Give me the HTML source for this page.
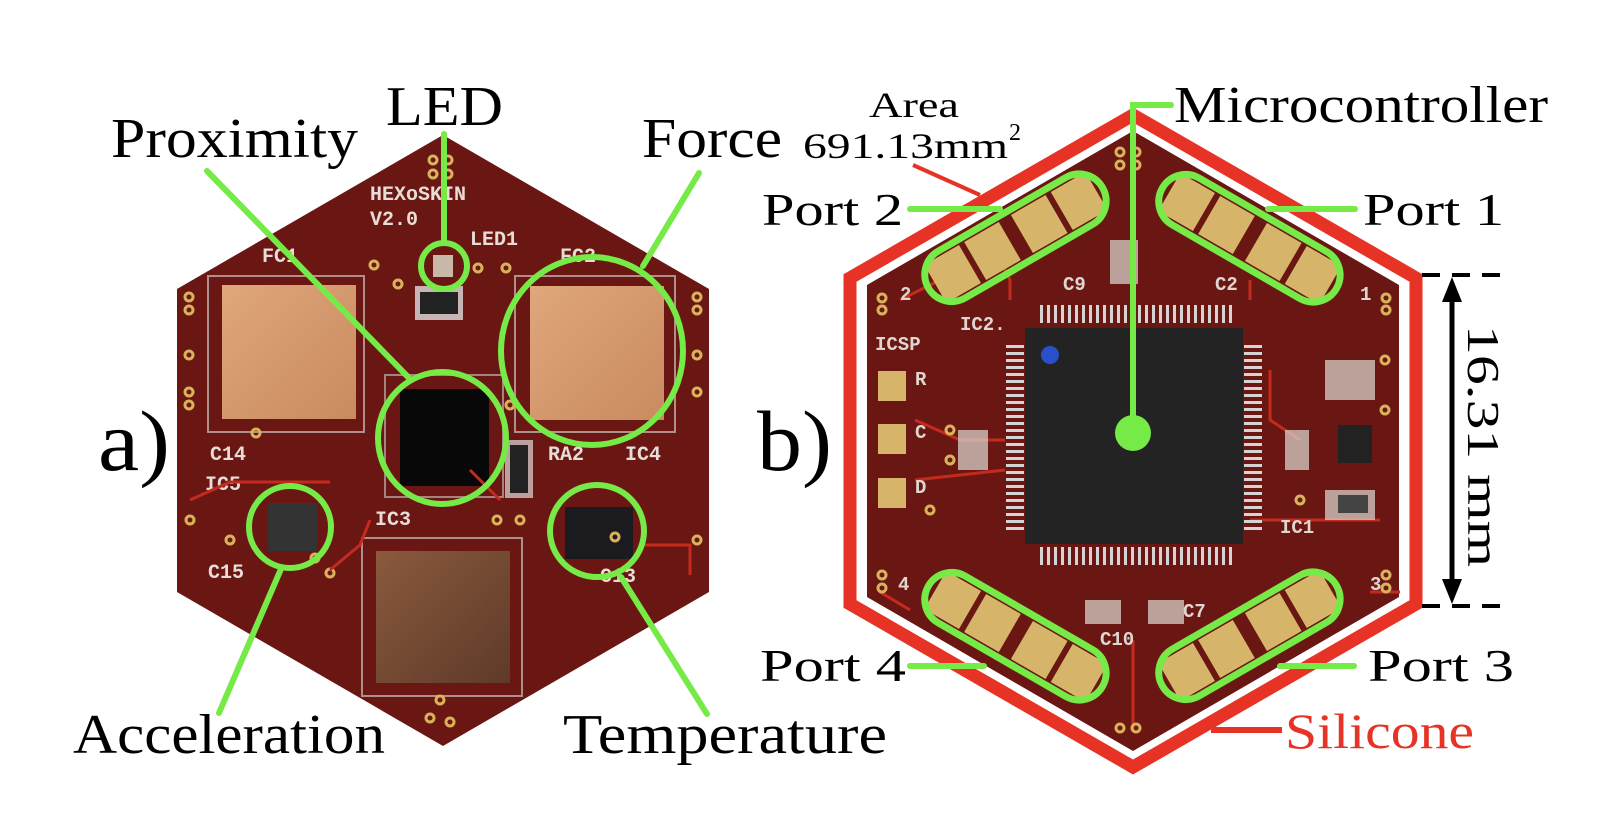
<!DOCTYPE html>
<html><head><meta charset="utf-8"><style>
html,body{margin:0;padding:0;background:#fff;}
svg{display:block;}
text{font-family:"Liberation Serif",serif;}
text.mono{font-family:"Liberation Mono",monospace;font-weight:bold;}
</style></head><body>
<svg width="1612" height="814" viewBox="0 0 1612 814" xmlns="http://www.w3.org/2000/svg">
<defs>
<linearGradient id="cu" x1="0" y1="0" x2="1" y2="1"><stop offset="0" stop-color="#e0a77c"/><stop offset="1" stop-color="#c98a5f"/></linearGradient>
<linearGradient id="cu2" x1="0" y1="0" x2="1" y2="1"><stop offset="0" stop-color="#8a5a3e"/><stop offset="1" stop-color="#5e3a28"/></linearGradient>
</defs>

<!-- LEFT BOARD -->
<polygon points="443,135 709,289 709,592 443,746 177,592 177,289" fill="#6a1713"/>
<rect x="208" y="276" width="156" height="156" fill="none" stroke="#ddd" stroke-width="2" opacity=".6"/>
<rect x="222" y="285" width="134" height="134" fill="url(#cu)"/>
<rect x="515" y="276" width="160" height="156" fill="none" stroke="#ddd" stroke-width="2" opacity=".6"/>
<rect x="530" y="286" width="134" height="134" fill="url(#cu)"/>
<rect x="362" y="538" width="160" height="158" fill="none" stroke="#ddd" stroke-width="2" opacity=".6"/>
<rect x="376" y="551" width="134" height="132" fill="url(#cu2)"/>
<rect x="385" y="375" width="118" height="122" fill="none" stroke="#ccc" stroke-width="2" opacity=".6"/>
<rect x="400" y="389" width="89" height="97" fill="#080808"/>
<rect x="268" y="503" width="49" height="48" fill="#333"/>
<rect x="565" y="507" width="68" height="52" fill="#1a1a1f"/>
<rect x="415" y="286" width="48" height="34" fill="#ddd" opacity=".8"/><rect x="420" y="292" width="38" height="22" fill="#222"/>
<rect x="505" y="440" width="28" height="58" fill="#ddd" opacity=".7"/><rect x="510" y="445" width="18" height="48" fill="#222"/>
<rect x="433" y="255" width="20" height="22" fill="#c9b8a8"/>
<g fill="#e8dcd6" font-size="20">
<text class="mono" x="370" y="200">HEXoSKIN</text>
<text class="mono" x="370" y="225">V2.0</text>
<text class="mono" x="470" y="245">LED1</text>
<text class="mono" x="262" y="262">FC1</text><text class="mono" x="560" y="262">FC2</text>
<text class="mono" x="210" y="460">C14</text><text class="mono" x="205" y="490">IC5</text>
<text class="mono" x="375" y="525">IC3</text><text class="mono" x="548" y="460">RA2</text><text class="mono" x="625" y="460">IC4</text>
<text class="mono" x="208" y="578">C15</text><text class="mono" x="600" y="582">C13</text>
</g>
<g fill="none" stroke="#d8b35a" stroke-width="3">
<circle cx="189" cy="297" r="4"/><circle cx="189" cy="310" r="4"/><circle cx="189" cy="355" r="4"/><circle cx="189" cy="392" r="4"/><circle cx="189" cy="405" r="4"/>
<circle cx="697" cy="297" r="4"/><circle cx="697" cy="310" r="4"/><circle cx="697" cy="355" r="4"/><circle cx="697" cy="392" r="4"/><circle cx="697" cy="540" r="4"/>
<circle cx="433" cy="160" r="4"/><circle cx="448" cy="160" r="4"/><circle cx="433" cy="174" r="4"/><circle cx="448" cy="174" r="4"/>
<circle cx="374" cy="265" r="4"/><circle cx="398" cy="284" r="4"/><circle cx="478" cy="268" r="4"/><circle cx="506" cy="268" r="4"/>
<circle cx="256" cy="433" r="4"/><circle cx="510" cy="405" r="4"/><circle cx="520" cy="520" r="4"/><circle cx="497" cy="520" r="4"/>
<circle cx="190" cy="520" r="4"/><circle cx="230" cy="540" r="4"/><circle cx="330" cy="573" r="4"/><circle cx="315" cy="558" r="4"/>
<circle cx="430" cy="718" r="4"/><circle cx="450" cy="722" r="4"/><circle cx="440" cy="700" r="4"/><circle cx="615" cy="537" r="4"/>
</g>
<g stroke="#c42a1e" stroke-width="3" fill="none">
<path d="M190 500 L230 482 L330 482"/><path d="M330 570 L360 545 L370 520"/><path d="M640 545 L690 545 L690 575"/><path d="M470 470 L500 500"/>
</g>

<g stroke="#76ea46" stroke-width="6" fill="none" stroke-linecap="round">
<ellipse cx="442" cy="438" rx="64" ry="66"/>
<circle cx="444" cy="266" r="23"/>
<ellipse cx="592" cy="351" rx="91" ry="94"/>
<circle cx="290" cy="527" r="41"/>
<ellipse cx="597" cy="531" rx="47" ry="46"/>
<line x1="207" y1="171" x2="410" y2="379"/>
<line x1="444" y1="134" x2="444" y2="243"/>
<line x1="699" y1="173" x2="643" y2="266"/>
<line x1="281" y1="569" x2="219" y2="713"/>
<line x1="621" y1="577" x2="707" y2="714"/>
</g>
<g font-size="56" fill="#000">
<text x="111" y="157" textLength="247" lengthAdjust="spacingAndGlyphs">Proximity</text>
<text x="386" y="125" textLength="117" lengthAdjust="spacingAndGlyphs">LED</text>
<text x="642" y="157" textLength="140" lengthAdjust="spacingAndGlyphs">Force</text>
<text x="73" y="753" textLength="312" lengthAdjust="spacingAndGlyphs">Acceleration</text>
<text x="563" y="753" textLength="324" lengthAdjust="spacingAndGlyphs">Temperature</text>
</g>
<text x="98" y="470" font-size="86" textLength="72" lengthAdjust="spacingAndGlyphs">a)</text>

<!-- RIGHT BOARD -->
<polygon points="1133,115 1416,278 1416,604 1133,767 850,604 850,278" fill="none" stroke="#e63325" stroke-width="13"/>
<polygon points="1133,131 1399,285 1399,597 1133,751 867,597 867,285" fill="#6a1713"/>
<g stroke="#c42a1e" stroke-width="3" fill="none">
<path d="M900 300 L940 280"/><path d="M1010 300 L1010 280 L1000 260"/><path d="M1250 300 L1250 280"/><path d="M1270 370 L1270 420 L1300 440"/>
<path d="M915 420 L960 440 L1005 440"/><path d="M915 480 L1005 470"/><path d="M1250 520 L1380 520"/><path d="M1133 640 L1133 730"/>
<path d="M1370 592 L1400 592"/><path d="M880 592 L910 610"/>
</g>
<g stroke="#d4d4d4" stroke-width="6" stroke-dasharray="3 4">
<line x1="1040" y1="314" x2="1235" y2="314" stroke-width="18"/><line x1="1040" y1="556" x2="1235" y2="556" stroke-width="18"/>
<line x1="1015" y1="345" x2="1015" y2="530" stroke-width="18" stroke-dasharray="3 4"/>
<line x1="1253" y1="345" x2="1253" y2="530" stroke-width="18" stroke-dasharray="3 4"/>
</g>
<rect x="1025" y="328" width="218" height="216" fill="#232323"/>
<circle cx="1050" cy="355" r="9" fill="#2850c8"/>
<g fill="#d8d0c8" opacity=".75">
<rect x="1110" y="240" width="28" height="44"/><rect x="958" y="430" width="30" height="40"/><rect x="1285" y="430" width="24" height="40"/>
<rect x="1325" y="360" width="50" height="40"/><rect x="1325" y="490" width="50" height="30"/><rect x="1085" y="600" width="36" height="24"/><rect x="1148" y="600" width="36" height="24"/>
</g>
<rect x="1338" y="425" width="34" height="38" fill="#222"/>
<rect x="1338" y="495" width="30" height="18" fill="#444"/>
<g fill="#d6b56a"><rect x="878" y="371" width="28" height="30"/><rect x="878" y="424" width="28" height="30"/><rect x="878" y="478" width="28" height="30"/></g>
<g fill="#e0d6d0" font-size="19">
<text class="mono" x="875" y="350">ICSP</text><text class="mono" x="915" y="385">R</text><text class="mono" x="915" y="438">C</text><text class="mono" x="915" y="493">D</text>
<text class="mono" x="960" y="330">IC2.</text><text class="mono" x="1063" y="290">C9</text><text class="mono" x="1215" y="290">C2</text>
<text class="mono" x="1280" y="533">IC1</text><text class="mono" x="1183" y="617">C7</text><text class="mono" x="1100" y="645">C10</text>
<text class="mono" x="900" y="300">2</text><text class="mono" x="1360" y="300">1</text><text class="mono" x="1370" y="590">3</text><text class="mono" x="898" y="590">4</text>
</g>
<g fill="none" stroke="#d8b35a" stroke-width="3">
<circle cx="1120" cy="152" r="4"/><circle cx="1136" cy="152" r="4"/><circle cx="1120" cy="165" r="4"/><circle cx="1136" cy="165" r="4"/>
<circle cx="882" cy="298" r="4"/><circle cx="882" cy="310" r="4"/><circle cx="1386" cy="298" r="4"/><circle cx="1386" cy="310" r="4"/>
<circle cx="882" cy="575" r="4"/><circle cx="882" cy="588" r="4"/><circle cx="1386" cy="575" r="4"/><circle cx="1386" cy="588" r="4"/>
<circle cx="1120" cy="728" r="4"/><circle cx="1136" cy="728" r="4"/><circle cx="1385" cy="360" r="4"/><circle cx="1385" cy="410" r="4"/>
<circle cx="950" cy="430" r="4"/><circle cx="950" cy="460" r="4"/><circle cx="930" cy="510" r="4"/><circle cx="1300" cy="500" r="4"/>
</g>
<g transform="translate(1015,238) rotate(-30)">
<rect x="-92" y="-22" width="40" height="44" fill="#d6b56a"/><rect x="-46" y="-22" width="40" height="44" fill="#d6b56a"/><rect x="8" y="-22" width="40" height="44" fill="#d6b56a"/><rect x="54" y="-22" width="40" height="44" fill="#d6b56a"/>
<rect x="-100" y="-27" width="201" height="54" rx="27" fill="none" stroke="#76ea46" stroke-width="7"/></g>
<g transform="translate(1249,238) rotate(30)">
<rect x="-92" y="-22" width="40" height="44" fill="#d6b56a"/><rect x="-46" y="-22" width="40" height="44" fill="#d6b56a"/><rect x="8" y="-22" width="40" height="44" fill="#d6b56a"/><rect x="54" y="-22" width="40" height="44" fill="#d6b56a"/>
<rect x="-100" y="-27" width="201" height="54" rx="27" fill="none" stroke="#76ea46" stroke-width="7"/></g>
<g transform="translate(1015,636) rotate(30)">
<rect x="-92" y="-22" width="40" height="44" fill="#d6b56a"/><rect x="-46" y="-22" width="40" height="44" fill="#d6b56a"/><rect x="8" y="-22" width="40" height="44" fill="#d6b56a"/><rect x="54" y="-22" width="40" height="44" fill="#d6b56a"/>
<rect x="-100" y="-27" width="201" height="54" rx="27" fill="none" stroke="#76ea46" stroke-width="7"/></g>
<g transform="translate(1249,636) rotate(-30)">
<rect x="-92" y="-22" width="40" height="44" fill="#d6b56a"/><rect x="-46" y="-22" width="40" height="44" fill="#d6b56a"/><rect x="8" y="-22" width="40" height="44" fill="#d6b56a"/><rect x="54" y="-22" width="40" height="44" fill="#d6b56a"/>
<rect x="-100" y="-27" width="201" height="54" rx="27" fill="none" stroke="#76ea46" stroke-width="7"/></g>

<g stroke="#76ea46" stroke-width="6" fill="none" stroke-linecap="round">
<line x1="910" y1="209" x2="1000" y2="209"/>
<line x1="1268" y1="209" x2="1355" y2="209"/>
<line x1="910" y1="666" x2="984" y2="666"/>
<line x1="1280" y1="666" x2="1354" y2="666"/>
<polyline points="1133,433 1133,105 1171,105"/>
</g>
<circle cx="1133" cy="433" r="18" fill="#76ea46"/>

<line x1="913" y1="165" x2="980" y2="195" stroke="#e63325" stroke-width="4"/>
<line x1="1211" y1="730" x2="1282" y2="730" stroke="#e63325" stroke-width="6"/>

<g font-size="46" fill="#000">
<text x="762" y="225" textLength="141" lengthAdjust="spacingAndGlyphs">Port 2</text>
<text x="1363" y="225" textLength="141" lengthAdjust="spacingAndGlyphs">Port 1</text>
<text x="760" y="681" textLength="146" lengthAdjust="spacingAndGlyphs">Port 4</text>
<text x="1368" y="681" textLength="146" lengthAdjust="spacingAndGlyphs">Port 3</text>
</g>
<text x="1174" y="122" font-size="52" textLength="374" lengthAdjust="spacingAndGlyphs">Microcontroller</text>
<text x="1285" y="748" font-size="50" fill="#e63325" textLength="189" lengthAdjust="spacingAndGlyphs">Silicone</text>
<text x="869" y="117" font-size="36" textLength="90" lengthAdjust="spacingAndGlyphs">Area</text>
<text x="803" y="158" font-size="36" textLength="205" lengthAdjust="spacingAndGlyphs">691.13mm</text>
<text x="1009" y="140" font-size="24">2</text>
<text x="757" y="470" font-size="86" textLength="75" lengthAdjust="spacingAndGlyphs">b)</text>

<g stroke="#000" stroke-width="4" stroke-dasharray="18 12">
<line x1="1422" y1="275" x2="1505" y2="275"/><line x1="1422" y1="606" x2="1505" y2="606"/>
</g>
<line x1="1452" y1="295" x2="1452" y2="586" stroke="#000" stroke-width="5"/>
<polygon points="1452,277 1442,302 1462,302" fill="#000"/>
<polygon points="1452,604 1442,579 1462,579" fill="#000"/>
<text transform="translate(1468,325) rotate(90)" font-size="46" textLength="242" lengthAdjust="spacingAndGlyphs">16.31 mm</text>
</svg>
</body></html>
